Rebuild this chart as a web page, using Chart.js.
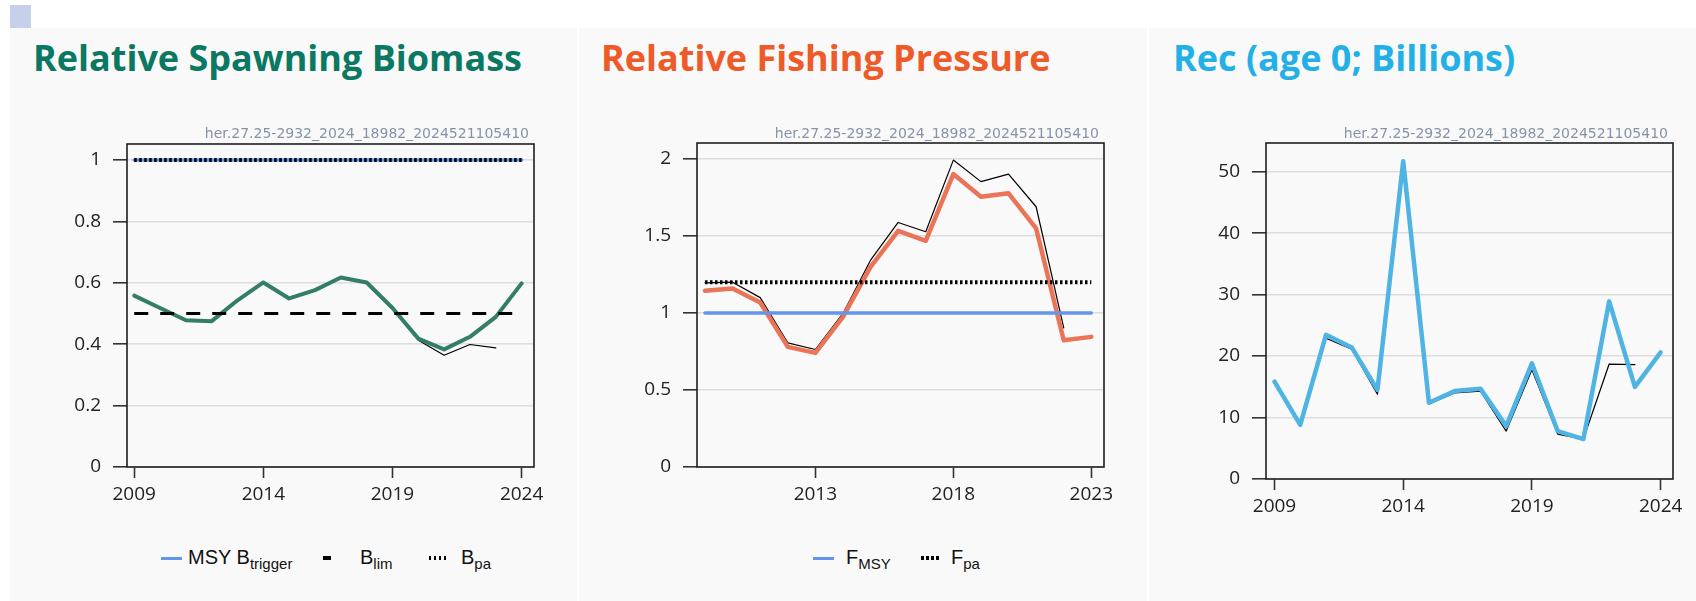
<!DOCTYPE html>
<html><head><meta charset="utf-8">
<script src="https://cdn.jsdelivr.net/npm/chart.js@4.4.1/dist/chart.umd.min.js"></script>
<style>
html,body{margin:0;padding:0;background:#fff;}
body{width:1696px;height:601px;position:relative;overflow:hidden;}
.corner{position:absolute;left:10px;top:5px;width:21px;height:23px;background:#c6d0e9;}
.panel{position:absolute;top:28px;height:573px;background:#f9f9f9;}
.title{position:absolute;top:40px;font-family:"Open Sans",sans-serif;font-weight:700;font-size:36px;line-height:36px;white-space:nowrap;}
.sub{position:absolute;top:126px;width:420px;font-family:"DejaVu Sans",sans-serif;font-size:14px;line-height:14px;color:#8593a8;text-align:right;white-space:nowrap;z-index:2;}
canvas{position:absolute;z-index:1;}
.leg{position:absolute;top:547px;font-family:"Liberation Sans",Arial,sans-serif;font-size:20px;line-height:20px;color:#111;white-space:nowrap;}
.leg sub{font-size:15px;vertical-align:-5px;line-height:0;}
.sym{position:absolute;}
</style></head>
<body>
<div class="corner"></div>
<div class="panel" style="left:10px;width:567px;"></div>
<div class="panel" style="left:579px;width:568px;"></div>
<div class="panel" style="left:1149px;width:547px;"></div>

<div class="title" style="left:33px;color:#0a7862;">Relative Spawning Biomass</div>
<div class="title" style="left:601px;color:#ee5a28;">Relative Fishing Pressure</div>
<div class="title" style="left:1173px;color:#22b0e6;">Rec (age 0; Billions)</div>

<div class="sub" style="left:109px;">her.27.25-2932_2024_18982_2024521105410</div>
<div class="sub" style="left:679px;">her.27.25-2932_2024_18982_2024521105410</div>
<div class="sub" style="left:1248px;">her.27.25-2932_2024_18982_2024521105410</div>

<canvas id="c1" width="538" height="387" style="left:10px;top:130px;"></canvas>
<canvas id="c2" width="539" height="387" style="left:579px;top:130px;"></canvas>
<canvas id="c3" width="538" height="399" style="left:1149px;top:130px;"></canvas>

<!-- legend panel 1 -->
<div class="sym" style="left:161px;top:557px;width:21px;height:3px;background:#6495ed;"></div>
<div class="leg" style="left:188px;">MSY B<sub>trigger</sub></div>
<div class="sym" style="left:323px;top:556px;width:8px;height:4px;background:#000;"></div>
<div class="leg" style="left:360px;">B<sub>lim</sub></div>
<div class="sym" style="left:429px;top:556px;width:18px;height:4px;background:repeating-linear-gradient(90deg,#000 0 2.5px,transparent 2.5px 5px);"></div>
<div class="leg" style="left:461px;">B<sub>pa</sub></div>

<!-- legend panel 2 -->
<div class="sym" style="left:813px;top:557px;width:21px;height:3px;background:#6495ed;"></div>
<div class="leg" style="left:846px;">F<sub>MSY</sub></div>
<div class="sym" style="left:921px;top:556px;width:18px;height:4px;background:repeating-linear-gradient(90deg,#000 0 2.5px,transparent 2.5px 5px);"></div>
<div class="leg" style="left:951px;">F<sub>pa</sub></div>

<script>
// ---------- DATA ----------
const years = [2009,2010,2011,2012,2013,2014,2015,2016,2017,2018,2019,2020,2021,2022,2023,2024];

// Relative spawning biomass (current assessment, and previous assessment)
const ssbRel     = [0.558,0.518,0.478,0.475,0.543,0.601,0.549,0.576,0.617,0.601,0.518,0.418,0.383,0.424,0.489,0.598];
const ssbRelPrev = [0.558,0.518,0.478,0.475,0.543,0.601,0.549,0.576,0.617,0.601,0.516,0.413,0.364,0.399,0.388,null];
const bTrigger = 1.0;
const bLim = 0.5;
const bPa = 1.0;

// Relative fishing pressure
const fYears   = [2009,2010,2011,2012,2013,2014,2015,2016,2017,2018,2019,2020,2021,2022,2023];
const fRel     = [1.144,1.159,1.068,0.780,0.741,0.975,1.300,1.534,1.469,1.902,1.755,1.777,1.549,0.823,0.845];
const fRelPrev = [1.196,1.200,1.100,0.806,0.763,0.997,1.343,1.588,1.528,1.993,1.853,1.902,1.690,0.904,null];
const fMsy = 1.0;
const fPa = 1.2;

// Recruitment (age 0; billions)
const rec     = [15.85,8.8,23.45,21.4,14.5,51.7,12.4,14.3,14.7,8.6,18.8,7.8,6.5,28.9,15.0,20.6];
const recPrev = [15.85,8.8,22.9,21.1,13.8,51.7,12.2,14.0,14.3,7.8,17.75,7.3,6.5,18.7,18.6,null];

// Tick labels
const ssbXTicks = [2009,2014,2019,2024];
const ssbYTicks = [0,0.2,0.4,0.6,0.8,1];
const fXTicks   = [2013,2018,2023];
const fYTicks   = [0,0.5,1,1.5,2];
const recXTicks = [2009,2014,2019,2024];
const recYTicks = [0,10,20,30,40,50];

// ---------- HELPERS ----------
function pts(xs, ys){ return xs.map((x,i)=>({x:x,y:ys[i]})).filter(p=>p.y!==null); }
function hline(x0, x1, v){ return [{x:x0,y:v},{x:x1,y:v}]; }

const boxPlugin = {
  id:'box',
  afterDraw(chart){
    const {ctx, chartArea:a} = chart;
    ctx.save();
    ctx.strokeStyle = '#1e1e1e';
    ctx.lineWidth = 1.6;
    ctx.strokeRect(a.left, a.top, a.right-a.left, a.bottom-a.top);
    ctx.restore();
  }
};

const tickFont = {family:'"Open Sans", sans-serif', size:19};

function lineDs(data, color, width, order, dash){
  return {
    data:data, borderColor:color, borderWidth:width, order:order,
    borderDash: dash || [], pointRadius:0, tension:0, fill:false,
    borderCapStyle: dash ? 'butt' : 'round', borderJoinStyle:'round'
  };
}

function makeChart(id, o){
  new Chart(document.getElementById(id), {
    type:'line',
    data:{datasets:o.datasets},
    plugins:[boxPlugin],
    options:{
      responsive:false, animation:false, devicePixelRatio:1,
      layout:{padding:{top:o.padTop, right:14, left:0, bottom:0}},
      plugins:{legend:{display:false}, title:{display:false}, tooltip:{enabled:false}},
      events:[],
      scales:{
        x:{
          type:'linear', min:o.xMin, max:o.xMax,
          afterBuildTicks:s=>{ s.ticks = o.xTicks.map(v=>({value:v})); },
          afterFit:s=>{ s.height = 50; s.paddingLeft = 0; s.paddingRight = 0; },
          border:{display:false},
          grid:{drawOnChartArea:false, drawTicks:true, tickLength:11, tickColor:'#333', tickWidth:1.6},
          ticks:{font:tickFont, color:'#222', padding:5, maxRotation:0, autoSkip:false, callback:v=>String(v)}
        },
        y:{
          type:'linear', min:0, max:o.yMax,
          afterBuildTicks:s=>{ s.ticks = o.yTicks.map(v=>({value:v})); },
          afterFit:s=>{ s.width = o.yWidth; s.paddingTop = 0; s.paddingBottom = 0; },
          border:{display:false},
          grid:{color:'#dddddd', lineWidth:1.6, drawTicks:true, tickLength:14, tickColor:'#333', tickWidth:1.6},
          ticks:{font:tickFont, color:'#222', padding:12, autoSkip:false, callback:v=>String(v)}
        }
      }
    }
  });
}

// ---------- CHARTS ----------
makeChart('c1', {
  xMin:2008.72, xMax:2024.48, yMax:1.052, xTicks:ssbXTicks, yTicks:ssbYTicks, yWidth:117, padTop:14,
  datasets:[
    lineDs(hline(2009,2024,bPa), '#000000', 4, 0, [2.5,2.5]),
    lineDs(hline(2009,2024,bTrigger), '#6495ed', 3.5, 1),
    lineDs(hline(2009,2024,bLim), '#000000', 3, 2, [14,12]),
    lineDs(pts(years, ssbRel), '#347d68', 4, 3),
    lineDs(pts(years, ssbRelPrev), '#000000', 1.2, 4)
  ]
});

makeChart('c2', {
  xMin:2008.71, xMax:2023.46, yMax:2.104, xTicks:fXTicks, yTicks:fYTicks, yWidth:118, padTop:13,
  datasets:[
    lineDs(hline(2009,2023,fPa), '#000000', 4, 0, [2.5,2.5]),
    lineDs(hline(2009,2023,fMsy), '#6495ed', 3.5, 1),
    lineDs(pts(fYears, fRel), '#ea7458', 4.5, 2),
    lineDs(pts(fYears, fRelPrev), '#000000', 1.2, 3)
  ]
});

makeChart('c3', {
  xMin:2008.67, xMax:2024.48, yMax:54.66, xTicks:recXTicks, yTicks:recYTicks, yWidth:117, padTop:13,
  datasets:[
    lineDs(pts(years, rec), '#4fb3e3', 4.5, 0),
    lineDs(pts(years, recPrev), '#000000', 1.2, 1)
  ]
});
</script>
</body></html>
